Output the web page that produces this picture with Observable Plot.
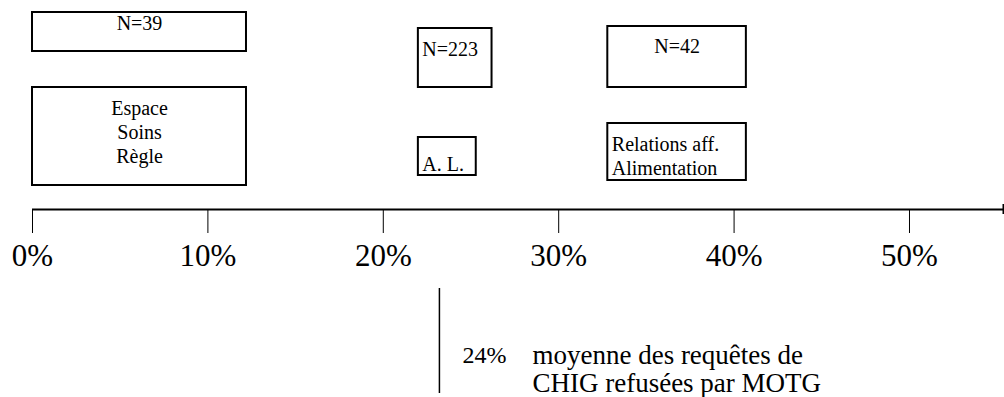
<!DOCTYPE html>
<html>
<head>
<meta charset="utf-8">
<script src="https://cdn.jsdelivr.net/npm/d3@7"></script>
<script src="https://cdn.jsdelivr.net/npm/@observablehq/plot@0.6"></script>
<style>
  html, body { margin: 0; padding: 0; background: #fff; }
  svg { display: block; }
</style>
</head>
<body>
<div id="chart"></div>
<script>
// Axis ticks
const tickValues = [0, 10, 20, 30, 40, 50];
const tickLabels = ["0%", "10%", "20%", "30%", "40%", "50%"];
const axisMax = 55.36;

// Boxes (x extent in % of the axis)
const boxLabels = ["N=39", "Espace\nSoins\nRègle", "N=223", "A. L.", "N=42", "Relations aff.\nAlimentation"];
const boxStart  = [0, 0, 22.0, 22.0, 32.8, 32.8];
const boxEnd    = [12.2, 12.2, 26.2, 25.3, 40.7, 40.7];
const boxAlign  = ["middle", "middle", "start", "start", "middle", "start"];
// vertical layout rows (top, bottom, text centre) in drawing units
const boxTop    = [12, 87, 28, 137, 26, 123];
const boxBottom = [51, 185, 87, 175, 87, 180];
const textRow   = [22, 131, 48, 163, 45, 155];

// Mean marker
const meanPosition = 23.2;
const meanLabel = "24%";
const meanText = "moyenne des requêtes de\nCHIG refusées par MOTG";

const boxes = boxLabels.map((label, i) => ({
  label, x1: boxStart[i], x2: boxEnd[i], y1: boxTop[i], y2: boxBottom[i],
  ty: textRow[i], align: boxAlign[i]
}));
const centred = boxes.filter(d => d.align === "middle");
const lefted = boxes.filter(d => d.align === "start");

const axisY = 209;
const serif = "Liberation Serif";

const chart = Plot.plot({
  width: 1004,
  height: 397,
  marginLeft: 32,
  marginRight: 1,
  marginTop: 0,
  marginBottom: 397 - axisY,
  style: {fontFamily: serif, color: "#000", background: "#fff"},
  x: {domain: [0, axisMax], label: null},
  y: {domain: [0, 397], range: [0, 397], axis: null},
  marks: [
    Plot.rect(boxes, {x1: "x1", x2: "x2", y1: "y1", y2: "y2", fill: "#fff", stroke: "#000", strokeWidth: 2}),
    Plot.text(centred, {x: d => (d.x1 + d.x2) / 2, y: "ty", text: "label", fontFamily: serif, fontSize: 20, lineHeight: 1.2, textAnchor: "middle", lineAnchor: "middle", fill: "#000"}),
    Plot.text(lefted, {x: "x1", y: "ty", text: "label", fontFamily: serif, fontSize: 20, lineHeight: 1.2, textAnchor: "start", lineAnchor: "middle", dx: 4, fill: "#000"}),
    Plot.ruleY([axisY], {x1: 0, x2: axisMax, stroke: "#000", strokeWidth: 2}),
    Plot.ruleX([axisMax], {y1: axisY - 5, y2: axisY + 5, stroke: "#000", strokeWidth: 2}),
    Plot.axisX({
      ticks: tickValues,
      tickSize: 24,
      tickPadding: 10,
      fontSize: 31,
      fontFamily: serif,
      tickFormat: d => tickLabels[tickValues.indexOf(d)],
      stroke: "#000",
      fill: "#000"
    }),
    Plot.ruleX([meanPosition], {y1: 288, y2: 393, stroke: "#000", strokeWidth: 1.5}),
    Plot.text([meanLabel], {x: meanPosition, y: 355, text: d => d, dx: 23, fontFamily: serif, fontSize: 24, textAnchor: "start", lineAnchor: "middle", fill: "#000"}),
    Plot.text([meanText], {x: meanPosition, y: 368.5, text: d => d, dx: 93, fontFamily: serif, fontSize: 27, lineHeight: 1.02, textAnchor: "start", lineAnchor: "middle", fill: "#000"})
  ]
});
document.getElementById("chart").appendChild(chart);
</script>
</body>
</html>
